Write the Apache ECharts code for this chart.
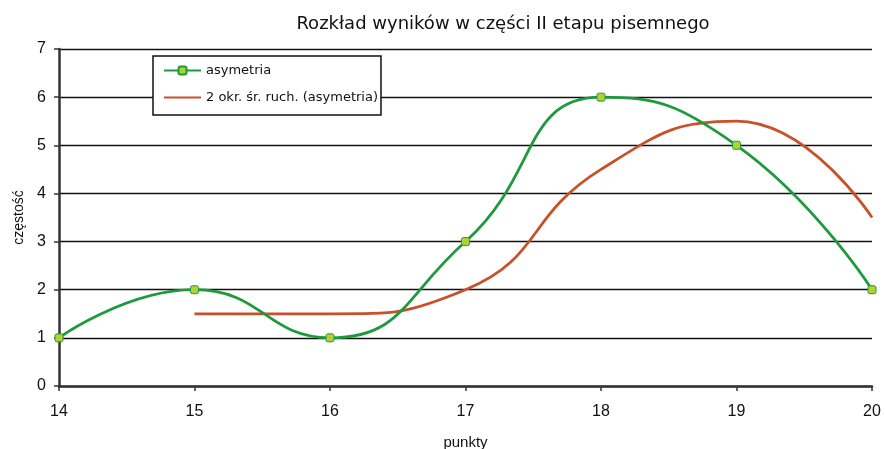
<!DOCTYPE html>
<html>
<head>
<meta charset="utf-8">
<script src="https://cdn.jsdelivr.net/npm/echarts@6/dist/echarts.min.js"></script>
<style>
  html, body { margin: 0; padding: 0; background: #fff; }
  #chart { width: 885px; height: 449px; }
</style>
</head>
<body>
<div id="chart"></div>
<script>
// Score distribution and its 2-period moving average
const points = [14, 15, 16, 17, 18, 19, 20];
const asymetria = [1, 2, 1, 3, 6, 5, 2];
const movingAvgPoints = [15, 16, 17, 18, 19, 20];
const movingAvg = [1.5, 1.5, 2, 4.5, 5.5, 3.5];
const yTicks = [0, 1, 2, 3, 4, 5, 6, 7];

const FONT = '"Liberation Sans", Arial, sans-serif';
const WIDE_FONT = '"DejaVu Sans", sans-serif';
const GREEN = '#1e9a3e';
const RED = '#c9502a';

const chart = echarts.init(document.getElementById('chart'));
chart.setOption({
  animation: false,
  backgroundColor: '#fff',
  title: {
    text: 'Rozkład wyników w części II etapu pisemnego',
    left: 498, top: 10, textAlign: 'center',
    textStyle: { fontFamily: WIDE_FONT, fontSize: 18, fontWeight: 'normal', color: '#111' }
  },
  legend: {
    orient: 'vertical',
    left: 153, top: 56,
    padding: [8, 3, 11, 10],
    itemGap: 14,
    itemWidth: 37, itemHeight: 10,
    backgroundColor: '#fff',
    borderColor: '#111', borderWidth: 1.5,
    textStyle: { fontFamily: WIDE_FONT, fontSize: 13, color: '#111' },
    data: [
      { name: 'asymetria' },
      { name: '2 okr. śr. ruch. (asymetria)', itemStyle: { color: 'transparent', borderWidth: 0 } }
    ]
  },
  grid: { left: 59, right: 13, top: 49, bottom: 63, outerBoundsMode: 'none' },
  xAxis: {
    type: 'value', min: 14, max: 20, interval: 1,
    name: 'punkty', nameLocation: 'middle', nameGap: 49,
    nameTextStyle: { fontFamily: FONT, fontSize: 15, color: '#111' },
    axisLine: { show: true, lineStyle: { color: '#333', width: 2.5 } },
    axisTick: { show: true, length: 5, lineStyle: { color: '#333', width: 1.5 } },
    axisLabel: { fontFamily: FONT, fontSize: 16, color: '#111', margin: 18 },
    splitLine: { show: false }
  },
  yAxis: {
    type: 'value', min: 0, max: 7, interval: 1,
    name: 'częstość', nameLocation: 'middle', nameGap: 30, nameRotate: 90,
    nameTextStyle: { fontFamily: FONT, fontSize: 14, color: '#111' },
    axisLine: { show: true, lineStyle: { color: '#333', width: 2.5 } },
    axisTick: { show: true, length: 5, lineStyle: { color: '#333', width: 1.5 } },
    axisLabel: {
      fontFamily: FONT, fontSize: 16, color: '#111', margin: 13,
      formatter: v => yTicks.includes(v) ? String(v) : ''
    },
    splitLine: { show: true, lineStyle: { color: '#111', width: 1.3 } }
  },
  series: [
    {
      name: '2 okr. śr. ruch. (asymetria)',
      type: 'line',
      smooth: 0.5,
      symbol: 'none',
      data: movingAvgPoints.map((x, i) => [x, movingAvg[i]]),
      lineStyle: { color: RED, width: 2.8 },
      itemStyle: { color: RED },
      z: 2
    },
    {
      name: 'asymetria',
      type: 'line',
      smooth: 0.5,
      symbol: 'roundRect',
      symbolSize: 8,
      showAllSymbol: true,
      data: points.map((x, i) => [x, asymetria[i]]),
      lineStyle: { color: GREEN, width: 2.8 },
      itemStyle: { color: '#b0d236', borderColor: GREEN, borderWidth: 1 },
      z: 3
    }
  ]
});
</script>
</body>
</html>
